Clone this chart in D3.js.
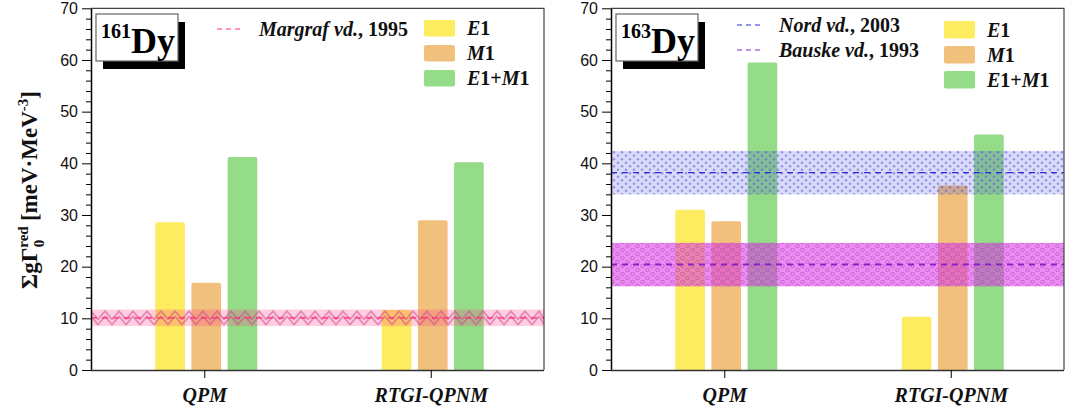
<!DOCTYPE html>
<html>
<head>
<meta charset="utf-8">
<script src="https://cdn.jsdelivr.net/npm/d3@7"></script>
<style>
  html, body { margin: 0; padding: 0; background: #fff; }
  svg { display: block; }
</style>
</head>
<body>
<svg id="chart" width="1069" height="416"></svg>
<script>
// Categories and series
const categories = ["QPM", "RTGI-QPNM"];
const seriesKeys = ["E1", "M1", "E1+M1"];
const seriesColors = ["#fdeb60", "#f0c07c", "#94dc87"];

// 161Dy strengths (meV/MeV^3)
const dy161E1   = [28.6, 11.6];
const dy161M1   = [16.9, 29.0];
const dy161E1M1 = [41.2, 40.2];

// 163Dy strengths (meV/MeV^3)
const dy163E1   = [31.0, 10.3];
const dy163M1   = [28.8, 35.7];
const dy163E1M1 = [59.5, 45.6];

// Experimental references: [value, uncertainty]
const margraf1995 = [10.1, 1.6];
const nord2003    = [38.2, 4.2];
const bauske1993  = [20.4, 4.2];

const yTicks = [0, 10, 20, 30, 40, 50, 60, 70];
const yMinorTicks = d3.range(0, 71, 2).filter(v => v % 10 !== 0);

const svg = d3.select("#chart");
const defs = svg.append("defs");

// Hatch patterns for the experimental bands
const dots = defs.append("pattern").attr("id", "dotsBlue")
  .attr("patternUnits", "userSpaceOnUse").attr("width", 8).attr("height", 7);
dots.append("circle").attr("cx", 2).attr("cy", 1.8).attr("r", 1.3).attr("fill", "rgba(80,80,210,0.5)");
dots.append("circle").attr("cx", 6).attr("cy", 5.3).attr("r", 1.3).attr("fill", "rgba(80,80,210,0.5)");

const rings = defs.append("pattern").attr("id", "ringsViolet")
  .attr("patternUnits", "userSpaceOnUse").attr("width", 10).attr("height", 8);
rings.append("circle").attr("cx", 2.5).attr("cy", 2).attr("r", 1.8)
  .attr("fill", "none").attr("stroke", "rgba(160,70,170,0.5)").attr("stroke-width", 1);
rings.append("circle").attr("cx", 7.5).attr("cy", 6).attr("r", 1.8)
  .attr("fill", "none").attr("stroke", "rgba(160,70,170,0.5)").attr("stroke-width", 1);

const plotTop = 8.3, plotBottom = 370;
const y = d3.scaleLinear().domain([0, 70]).range([plotBottom, plotTop]);

const serif = "'Liberation Serif', 'Times New Roman', serif";
const sans = "'Liberation Sans', Arial, sans-serif";

function seriesLabel(sel, key) {
  // "E1", "M1", "E1+M1" with italic letters
  const parts = key.match(/[EM]|[^EM]+/g);
  parts.forEach(p => {
    sel.append("tspan").text(p)
      .attr("font-style", /[EM]/.test(p) ? "italic" : "normal");
  });
}

function drawPanel(opt) {
  const { x0, x1, values, refs, nucleus } = opt;
  const g = svg.append("g");

  const x = d3.scalePoint().domain(categories).range([x0, x1]).padding(0.5);
  const inner = d3.scaleBand().domain(seriesKeys).range([-51, 51]).paddingInner(0.18);

  // Bars
  seriesKeys.forEach((key, si) => {
    g.append("g").selectAll("rect")
      .data(categories.map((c, ci) => ({ c, v: values[si][ci] })))
      .join("rect")
      .attr("x", d => x(d.c) + inner(key) + 2)
      .attr("width", inner.bandwidth())
      .attr("y", d => y(d.v))
      .attr("height", d => y(0) - y(d.v) + 2)
      .attr("rx", 2)
      .attr("fill", seriesColors[si]);
  });
  // hide rounded bottoms below axis
  g.append("rect").attr("x", x0).attr("y", plotBottom + 0.5).attr("width", x1 - x0).attr("height", 4).attr("fill", "#fff");

  // Experimental bands
  refs.forEach(r => {
    const [v, e] = r.data;
    const yT = y(v + e), yB = y(v - e);
    g.append("rect").attr("x", x0).attr("y", yT).attr("width", x1 - x0).attr("height", yB - yT)
      .attr("fill", r.fill);
    if (r.pattern) {
      g.append("rect").attr("x", x0).attr("y", yT).attr("width", x1 - x0).attr("height", yB - yT)
        .attr("fill", `url(#${r.pattern})`);
    }
    if (r.wave) {
      const yM = y(v);
      const step = 7;
      const n = Math.ceil((x1 - x0) / step);
      const upper = d3.range(n + 1).map(i => [Math.min(x1, x0 + i * step), i % 2 ? yM + 1.5 : yT + 1.5]);
      const lower = d3.range(n + 1).map(i => [Math.min(x1, x0 + i * step), i % 2 ? yB - 1.5 : yM - 1.5]);
      const line = d3.line().curve(d3.curveLinear);
      [upper, lower].forEach(pts => {
        g.append("path").attr("d", line(pts)).attr("fill", "none")
          .attr("stroke", "rgba(205,70,140,0.5)").attr("stroke-width", 1.8)
          .attr("stroke-linejoin", "round");
      });
    }
    g.append("line").attr("x1", x0).attr("x2", x1).attr("y1", y(v)).attr("y2", y(v))
      .attr("stroke", r.line).attr("stroke-width", r.lineWidth || 1.2)
      .attr("stroke-dasharray", "6,5");
  });

  // Frame (top and right)
  g.append("path")
    .attr("d", `M${x0},${plotTop}H${x1}V${plotBottom}`)
    .attr("fill", "none").attr("stroke", "#444").attr("stroke-width", 1.2);

  // Y axis
  const yAxis = g.append("g").attr("transform", `translate(${x0},0)`)
    .call(d3.axisLeft(y).tickValues(yTicks).tickSize(9).tickSizeOuter(0).tickPadding(4));
  yAxis.selectAll("text").style("font-family", sans).style("font-size", "16px").attr("fill", "#111");
  yAxis.select(".domain").attr("stroke", "#000").attr("stroke-width", 1.5);
  g.append("g").attr("transform", `translate(${x0},0)`)
    .call(d3.axisLeft(y).tickValues(yMinorTicks).tickSize(5).tickSizeOuter(0).tickFormat(""))
    .select(".domain").remove();

  // X axis
  const xAxis = g.append("g").attr("transform", `translate(0,${plotBottom})`)
    .call(d3.axisBottom(x).tickSize(8).tickSizeOuter(0).tickPadding(10));
  xAxis.select(".domain").attr("stroke", "#333").attr("stroke-width", 1.5)
    .attr("d", `M${x0},0.5H${x1}`);
  xAxis.selectAll("text")
    .style("font-family", serif).style("font-weight", "bold").style("font-style", "italic")
    .style("font-size", "20px").attr("fill", "#111");

  // Nucleus label box with shadow
  const bx = x0 + 5, by = 14, bw = 82, bh = 47;
  g.append("rect").attr("x", bx + 7).attr("y", by + 8).attr("width", bw).attr("height", bh).attr("fill", "#000");
  g.append("rect").attr("x", bx).attr("y", by).attr("width", bw).attr("height", bh)
    .attr("fill", "#fff").attr("stroke", "#666").attr("stroke-width", 1.2);
  const t = g.append("text").attr("x", bx + 5).attr("y", by + 39)
    .attr("font-family", serif).attr("font-weight", "bold").attr("fill", "#000");
  t.append("tspan").attr("font-size", 20).attr("dy", -15).text(nucleus[0]);
  t.append("tspan").attr("font-size", 36).attr("dy", 15).text(nucleus[1]);

  // Reference legend
  refs.forEach(r => {
    const ly = r.legendY;
    g.append("line").attr("x1", x0 + 126).attr("x2", x0 + 153).attr("y1", ly).attr("y2", ly)
      .attr("stroke", r.line).attr("stroke-width", 1).attr("stroke-dasharray", "5,4");
    const lt = g.append("text").attr("x", x0 + 168).attr("y", ly + 7)
      .attr("font-family", serif).attr("font-weight", "bold").attr("font-size", 20).attr("fill", "#111");
    lt.append("tspan").attr("font-style", "italic").text(r.author);
    lt.append("tspan").text(r.year);
  });

  // Series legend
  seriesKeys.forEach((key, si) => {
    const sy = opt.swatchY + si * 25;
    g.append("rect").attr("x", x0 + 333).attr("y", sy).attr("width", 31).attr("height", opt.swatchH)
      .attr("rx", 2).attr("fill", seriesColors[si]);
    const st = g.append("text").attr("x", x0 + 376).attr("y", sy + opt.swatchH / 2 + 7)
      .attr("font-family", serif).attr("font-weight", "bold").attr("font-size", 20).attr("fill", "#111");
    seriesLabel(st, key);
  });
}

drawPanel({
  x0: 91, x1: 544,
  values: [dy161E1, dy161M1, dy161E1M1],
  nucleus: ["161", "Dy"],
  swatchY: 20, swatchH: 16.5,
  refs: [
    { data: margraf1995, fill: "rgba(255,70,140,0.26)", wave: true, line: "#ff2a78",
      lineWidth: 1.2, author: "Margraf vd.", year: ", 1995", legendY: 29 }
  ]
});

drawPanel({
  x0: 611, x1: 1064,
  values: [dy163E1, dy163M1, dy163E1M1],
  nucleus: ["163", "Dy"],
  swatchY: 21, swatchH: 17.5,
  refs: [
    { data: nord2003, fill: "rgba(70,70,230,0.2)", pattern: "dotsBlue", line: "#2a2ad8",
      lineWidth: 1.2, author: "Nord vd.", year: ", 2003", legendY: 25 },
    { data: bauske1993, fill: "rgba(222,45,236,0.55)", pattern: "ringsViolet", line: "#8a22c8",
      lineWidth: 2, author: "Bauske vd.", year: ", 1993", legendY: 50 }
  ]
});

// Y axis title
const yl = svg.append("text")
  .attr("transform", "translate(37,190) rotate(-90)")
  .attr("text-anchor", "middle")
  .attr("font-family", serif).attr("font-weight", "bold").attr("font-size", 23).attr("fill", "#111");
yl.append("tspan").text("ΣgΓ");
yl.append("tspan").attr("font-size", 15).attr("dy", -9).text("red");
yl.append("tspan").attr("font-size", 15).attr("dx", -21).attr("dy", 16).text("0");
yl.append("tspan").attr("dx", 13).attr("dy", -7).text(" [meV·MeV");
yl.append("tspan").attr("font-size", 15).attr("dy", -9).text("-3");
yl.append("tspan").attr("dy", 9).text("]");
</script>
</body>
</html>
